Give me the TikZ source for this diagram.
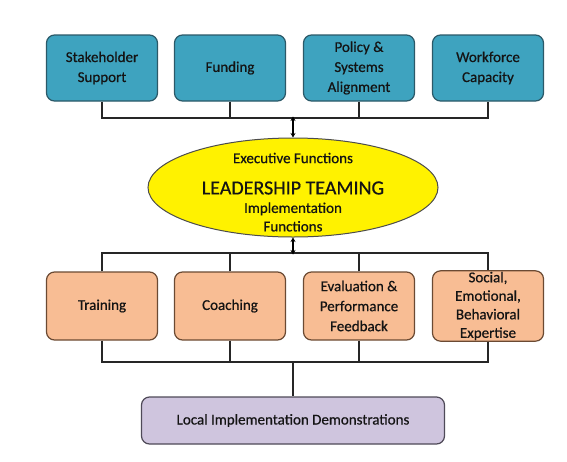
\documentclass[tikz,border=0pt]{standalone}
\usepackage{fontspec}
\setmainfont{Carlito}[FakeBold=0.6]
\usetikzlibrary{arrows.meta,shapes.geometric}
\definecolor{teal1}{HTML}{3EA3BF}
\definecolor{tealB}{HTML}{2B5968}
\definecolor{orange1}{HTML}{F8BD94}
\definecolor{orangeB}{HTML}{6B4A33}
\definecolor{purple1}{HTML}{CFC5DE}
\definecolor{purpleB}{HTML}{4F4A58}
\definecolor{txt}{HTML}{141414}
\begin{document}
\begin{tikzpicture}[x=1pt,y=-1pt,
  boxbase/.style={draw, line width=1.2pt, rounded corners=8pt, minimum width=111pt,
    minimum height=66pt, align=center, text=txt, inner sep=1pt,
    font=\fontsize{15}{20}\selectfont},
  topbox/.style={boxbase, fill=teal1, draw=tealB},
  botbox/.style={boxbase, fill=orange1, draw=orangeB, minimum height=68pt},
  wire/.style={line width=1.6pt, draw=black!85},
  dblarrow/.style={line width=1.1pt, {Stealth[length=4.5pt,width=5pt]}-{Stealth[length=4.5pt,width=5pt]}},
]
\useasboundingbox (0,0) rectangle (567,461);
\fill[white] (0,0) rectangle (567,461);

% top row
\node[topbox] (t1) at (102,68) {Stakeholder\\Support};
\node[topbox] (t2) at (230,68) {Funding};
\node[topbox] (t3) at (359,68) {Policy \&\\Systems\\Alignment};
\node[topbox] (t4) at (488,68) {Workforce\\Capacity};

% ellipse
\node[ellipse, draw=black!70, line width=1pt, fill=yellow, minimum width=290pt,
  minimum height=99pt, inner sep=0pt] (lead) at (293,187.5) {};
\node[text=txt, font=\fontsize{15}{19}\selectfont] (ef) at (293,158) {Executive Functions};
\node[text=txt, font=\fontsize{20}{22}\selectfont] (lt) at (293,188) {LEADERSHIP TEAMING};
\node[text=txt, align=center, font=\fontsize{15}{18.5}\selectfont] (imf) at (293,217) {Implementation\\Functions};

% bottom row
\node[botbox] (b1) at (102,306) {Training};
\node[botbox] (b2) at (230,306) {Coaching};
\node[botbox] (b3) at (359,306) {Evaluation \&\\Performance\\Feedback};
\node[botbox, minimum height=69pt, font=\fontsize{15}{18.5}\selectfont] (b4) at (488,306) {Social,\\Emotional,\\Behavioral\\Expertise};

% local box
\node[boxbase, fill=purple1, draw=purpleB, minimum width=303pt, minimum height=47pt] (loc) at (293,420.5) {Local Implementation Demonstrations};

% bus coordinates
\coordinate (busA) at (293,118);
\coordinate (busB) at (293,253);
\coordinate (busC) at (293,362);

% top bus
\draw[wire] (t1.south) -- (t1.south |- busA) -- (t4.south |- busA) -- (t4.south);
\draw[wire] (t2.south) -- (t2.south |- busA);
\draw[wire] (t3.south) -- (t3.south |- busA);
% middle bus
\draw[wire] (b1.north) -- (b1.north |- busB) -- (b4.north |- busB) -- (b4.north);
\draw[wire] (b2.north) -- (b2.north |- busB);
\draw[wire] (b3.north) -- (b3.north |- busB);
% bottom bus
\draw[wire] (b1.south) -- (b1.south |- busC) -- (b4.south |- busC) -- (b4.south);
\draw[wire] (b2.south) -- (b2.south |- busC);
\draw[wire] (b3.south) -- (b3.south |- busC);
\draw[wire] (busC) -- (loc.north);

% arrows
\draw[dblarrow] ([yshift=1.5pt]busA) -- (lead.north);
\draw[dblarrow] (lead.south) -- ([yshift=-1.5pt]busB);
\end{tikzpicture}
\end{document}
